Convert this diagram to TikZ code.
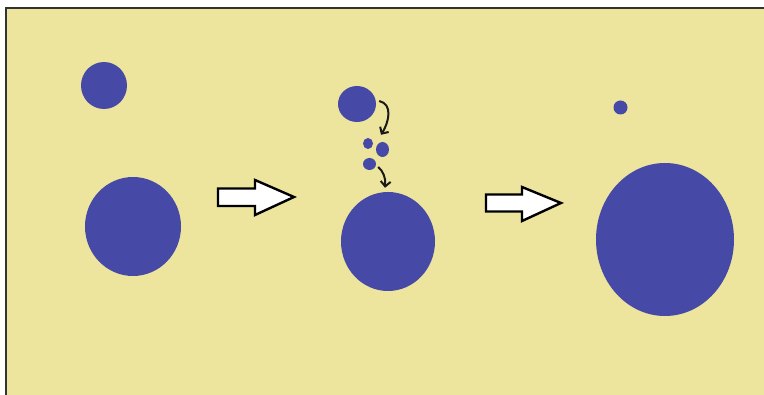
\documentclass[tikz,border=0pt]{standalone}
\usetikzlibrary{shapes.geometric,arrows.meta}
\definecolor{bgyellow}{HTML}{EDE49E}
\definecolor{dropblue}{HTML}{464AA6}
\tikzset{
  drop/.style={ellipse, fill=dropblue, draw=none, inner sep=0pt},
  blockarrow/.style={draw=black, fill=white, line width=2.4pt, line join=miter},
  curvearrow/.style={draw=black!90, line width=2pt, -{Straight Barb[length=5pt,width=10pt,line width=2pt]}}
}
\begin{document}
\begin{tikzpicture}[x=1pt,y=-1pt]
  \useasboundingbox (0,0) rectangle (764,395);
  \fill[white] (0,0) rectangle (764,395);
  \fill[bgyellow] (6,8) rectangle (764,395);
  \draw[line width=2pt, draw=black!80] (6,395) -- (6,8) -- (764,8);

  % left stage
  \node[drop, minimum width=46pt, minimum height=47pt] (ls) at (104,85.5) {};
  \node[drop, minimum width=96pt, minimum height=99pt] (lb) at (133,226.5) {};

  % block arrow 1
  \draw[blockarrow] (218,188.5) -- (255,188.5) -- (255,180) -- (294,197) -- (255,215) -- (255,206) -- (218,206) -- cycle;

  % middle stage
  \node[drop, minimum width=38pt, minimum height=36pt] (ms) at (357,104) {};
  \node[drop, minimum width=10pt, minimum height=11pt] (t1) at (368,143.5) {};
  \node[drop, minimum width=13pt, minimum height=15pt] (t2) at (382.5,149.5) {};
  \node[drop, minimum width=13pt, minimum height=12pt] (t3) at (369.5,164) {};
  \node[drop, minimum width=94pt, minimum height=99pt] (mb) at (388,241.5) {};

  \draw[curvearrow] ([xshift=3pt,yshift=3pt]ms.east) .. controls (393,104) and (389,122) .. ([xshift=-1.5pt,yshift=7pt]t2.north);
  \draw[curvearrow] ([xshift=2pt,yshift=-3pt]t3.east) .. controls (383,171) and (386,178) .. ([xshift=-3pt,yshift=4pt]mb.north);

  % block arrow 2
  \draw[blockarrow] (486,194.5) -- (522,194.5) -- (522,187) -- (561,203) -- (522,221) -- (522,211.5) -- (486,211.5) -- cycle;

  % right stage
  \node[drop, minimum width=14pt, minimum height=14pt] (rs) at (620.5,107.5) {};
  \node[drop, minimum width=138pt, minimum height=153pt] (rb) at (665,239.5) {};
\end{tikzpicture}
\end{document}
